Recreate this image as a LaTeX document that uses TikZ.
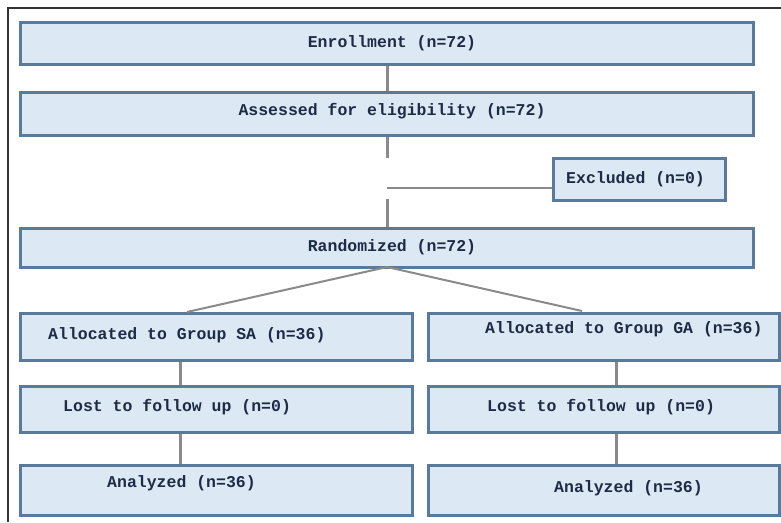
\documentclass[tikz,border=0pt]{standalone}
\usepackage{fontspec}
\newfontfamily\flowfont{Liberation Mono}
\definecolor{boxfill}{HTML}{DCE9F5}
\definecolor{boxedge}{HTML}{5A7A9C}
\definecolor{linkgray}{HTML}{8A8A8A}
\definecolor{txtnavy}{HTML}{1E2B45}
\tikzset{
  flowbox/.style={draw=boxedge,fill=boxfill,line width=3pt,rectangle,inner sep=0pt},
  flowtxt/.style={font=\flowfont\bfseries\fontsize{16.5}{18}\selectfont,text=txtnavy,inner sep=0pt},
  link/.style={draw=linkgray,line width=3pt}
}
\begin{document}
\begin{tikzpicture}[x=1pt,y=-1pt]
				\useasboundingbox (0,0) rectangle (781,522);
				% frame
				\draw[line width=1.5pt,black!80] (781,8)--(8,8)--(8,522);
				% boxes
				\node[flowbox,minimum width=733pt,minimum height=42pt] (enrol) at (386.5,43) {};
				\node[flowbox,minimum width=733pt,minimum height=43pt] (assess) at (386.5,113.5) {};
				\node[flowbox,minimum width=172pt,minimum height=42pt] (excl) at (639,179) {};
				\node[flowbox,minimum width=733pt,minimum height=39pt] (rand) at (386.5,247.5) {};
				\node[flowbox,minimum width=392pt,minimum height=47pt] (sa) at (216,336.5) {};
				\node[flowbox,minimum width=392pt,minimum height=46pt] (salost) at (216,409) {};
				\node[flowbox,minimum width=392pt,minimum height=50pt] (saanal) at (216,490) {};
				\node[flowbox,minimum width=351pt,minimum height=47pt] (ga) at (603.5,336.5) {};
				\node[flowbox,minimum width=351pt,minimum height=46pt] (galost) at (603.5,409) {};
				\node[flowbox,minimum width=351pt,minimum height=50pt] (gaanal) at (603.5,490) {};
				% texts
				\node[flowtxt] (t-enrol) at (392,43) {Enrollment (n=72)};
				\node[flowtxt] (t-assess) at (392,111) {Assessed for eligibility (n=72)};
				\node[flowtxt,anchor=west] (t-excl) at (566,179) {Excluded (n=0)};
				\node[flowtxt] (t-rand) at (392,247) {Randomized (n=72)};
				\node[flowtxt,anchor=west] (t-sa) at (48,335) {Allocated to Group SA (n=36)};
				\node[flowtxt,anchor=west] (t-salost) at (63,407) {Lost to follow up (n=0)};
				\node[flowtxt,anchor=west] (t-saanal) at (107,483) {Analyzed (n=36)};
				\node[flowtxt,anchor=west] (t-ga) at (485,329) {Allocated to Group GA (n=36)};
				\node[flowtxt,anchor=west] (t-galost) at (487,407) {Lost to follow up (n=0)};
				\node[flowtxt,anchor=west] (t-gaanal) at (554,488) {Analyzed (n=36)};
				% free ends
				\coordinate (gapA) at (387,158);
				\coordinate (gapB) at (387,188);
				\coordinate (gapC) at (387,199);
				\coordinate (randB) at (387,267);
				\coordinate (saTop) at (187,312);
				\coordinate (gaTop) at (582,311);
				% connectors
				\draw[link] ([xshift=0.5pt]enrol.south)--([xshift=0.5pt]assess.north);
				\draw[link] ([xshift=0.5pt]assess.south)--(gapA);
				\draw[link,line width=2.5pt] (gapB)--(gapB -| excl.west);
				\draw[link] (gapC)--([xshift=0.5pt]rand.north);
				\draw[link,line width=2pt] (randB)--(saTop);
				\draw[link,line width=2pt] (randB)--(gaTop);
				\draw[link] ([xshift=-36pt]sa.south)--([xshift=-36pt]salost.north);
				\draw[link] ([xshift=-36pt]salost.south)--([xshift=-36pt]saanal.north);
				\draw[link] ([xshift=12.5pt]ga.south)--([xshift=12.5pt]galost.north);
				\draw[link] ([xshift=12.5pt]galost.south)--([xshift=12.5pt]gaanal.north);
			\end{tikzpicture}
\end{document}
